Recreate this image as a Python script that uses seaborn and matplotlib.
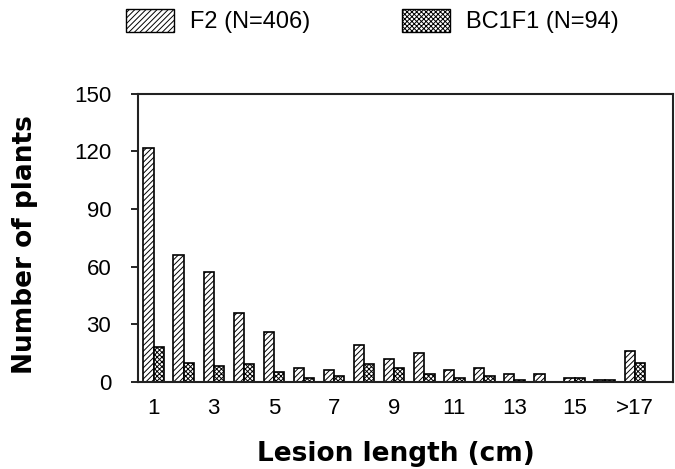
import pandas as pd
import numpy as np
import matplotlib.pyplot as plt
import matplotlib.patches as mpatches
import seaborn as sns

# Lesion length classes (cm) and counts per population
lengths = ["1", "2", "3", "4", "5", "6", "7", "8", "9", "10",
           "11", "12", "13", "14", "15", "16", ">17"]
f2_counts = [122, 66, 57, 36, 26, 7, 6, 19, 12, 15, 6, 7, 4, 4, 2, 1, 16]
bc1f1_counts = [18, 10, 8, 9, 5, 2, 3, 9, 7, 4, 2, 3, 1, 0, 2, 1, 10]
tick_labels = ["1", "", "3", "", "5", "", "7", "", "9", "", "11", "", "13", "", "15", "", ">17"]
series = ["F2 (N=406)", "BC1F1 (N=94)"]

df = pd.DataFrame({
    "length": lengths * 2,
    "count": f2_counts + bc1f1_counts,
    "pop": [series[0]] * len(lengths) + [series[1]] * len(lengths),
})

sns.set_style("white", {"text.color": "black", "axes.labelcolor": "black",
                        "xtick.color": "black", "ytick.color": "black"})
plt.rcParams['font.family'] = ['Liberation Sans', 'DejaVu Sans']
plt.rcParams['hatch.linewidth'] = 0.7

fig = plt.figure(figsize=(6.75, 4.69), dpi=100)
ax = fig.add_axes([0.204, 0.186, 0.793, 0.614])

sns.barplot(data=df, x="length", y="count", hue="pop", order=lengths,
            hue_order=series, width=0.68, palette=["white", "white"],
            edgecolor="black", linewidth=1.2, legend=False, ax=ax)

hatches = ["//////", "xxxxxxx"]
for cont, h in zip(ax.containers, hatches):
    for bar in cont:
        bar.set_hatch(h)

ax.set_xlim(-0.53, 17.27)
ax.set_ylim(0, 150)
ax.set_yticks([0, 30, 60, 90, 120, 150])
ax.set_xticks(range(len(lengths)))
ax.set_xticklabels(tick_labels)
ax.tick_params(axis="y", direction="out", length=5, width=1.2, left=True, labelsize=16, pad=14)
ax.tick_params(axis="x", length=0, labelsize=16, pad=12)
for s in ax.spines.values():
    s.set_linewidth(1.5)
    s.set_color("#222222")

ax.set_xlabel("Lesion length (cm)", fontsize=19, fontweight="bold", family="DejaVu Sans")
ax.set_ylabel("Number of plants", fontsize=19, fontweight="bold", family="DejaVu Sans")
ax.xaxis.set_label_coords(0.482, -0.205)
ax.yaxis.set_label_coords(-0.187, 0.476)

handles = [mpatches.Patch(facecolor="white", edgecolor="black", hatch=h, linewidth=1.0)
           for h in hatches]
fig.legend(handles, series, loc="upper left", bbox_to_anchor=(126 / 675, 1 - 9 / 469), ncol=2,
           frameon=False, fontsize=17, handlelength=2.05, handleheight=1.1,
           columnspacing=3.85, handletextpad=0.68, borderpad=0, borderaxespad=0)

fig.savefig("out.png", dpi=100)
